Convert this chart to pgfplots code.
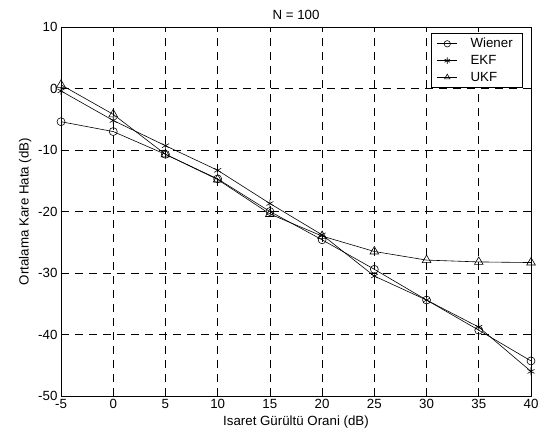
\documentclass[border=0pt]{standalone}
\usepackage{pgfplots}
\pgfplotsset{compat=1.18}
\usepackage{fontspec}
\setmainfont{Liberation Sans}

\newcommand{\ff}{\fontsize{13.3}{15}\selectfont}

\begin{document}
\begin{tikzpicture}
\begin{axis}[
  scale only axis, width=470pt, height=369pt,
  xmin=-5, xmax=40, ymin=-50, ymax=10,
  xtick={-5,0,...,40}, xticklabels={-5,0,5,10,15,20,25,30,35,40},
  ytick={-50,-40,...,10}, yticklabels={-50,-40,-30,-20,-10,0,10},
  tick align=inside, major tick length=5pt,
  tick style={black, line width=0.6pt},
  grid=major,
  grid style={black, line width=0.6pt, dash pattern=on 8pt off 6pt},
  axis line style={black, line width=0.8pt},
  tick label style={font=\ff},
  label style={font=\ff},
  title style={font=\ff, yshift=-2pt},
  title={N = 100},
  xlabel={Isaret Gürültü Orani (dB)},
  ylabel={Ortalama Kare Hata (dB)},
  legend style={font=\ff, at={(0.983,0.984)}, anchor=north east, draw=black, line width=0.6pt, fill=white,
    row sep=4pt, inner xsep=6pt, inner ysep=4pt,
    nodes={inner xsep=2pt, inner ysep=1pt},
    /tikz/every odd column/.append style={column sep=9pt},
    /tikz/every even column/.append style={nodes={inner xsep=4pt}}},
  legend cell align=left,
  legend image code/.code={\draw[mark repeat=2,mark phase=2] plot coordinates {(0pt,0pt) (10pt,0pt) (20pt,0pt)};},
  legend image post style={mark size=3.2pt},
  every axis plot/.append style={black, line width=0.6pt},
]
\addplot[mark=o, mark size=4pt, mark options={solid}] coordinates {
 (-5,-5.4) (0,-7.0) (5,-10.7) (10,-14.7) (15,-20.0) (20,-24.6) (25,-29.4) (30,-34.4) (35,-39.3) (40,-44.3)};
\addlegendentry{Wiener}
\addplot[mark=asterisk, mark size=4pt, mark options={solid}] coordinates {
 (-5,-0.4) (0,-5.2) (5,-9.3) (10,-13.3) (15,-18.7) (20,-23.8) (25,-30.5) (30,-34.4) (35,-38.8) (40,-46.0)};
\addlegendentry{EKF}
\addplot[mark=triangle, mark size=5pt, mark options={solid}] coordinates {
 (-5,0.6) (0,-4.2) (5,-10.7) (10,-14.8) (15,-20.4) (20,-24.0) (25,-26.5) (30,-27.9) (35,-28.2) (40,-28.3)};
\addlegendentry{UKF}
\coordinate (bl) at (rel axis cs:0,0);
\coordinate (tr) at (rel axis cs:1,1);
\end{axis}
\pgfresetboundingbox
\path ([xshift=-61pt,yshift=-45pt]bl) rectangle ([xshift=16pt,yshift=27pt]tr);
\end{tikzpicture}
\end{document}
